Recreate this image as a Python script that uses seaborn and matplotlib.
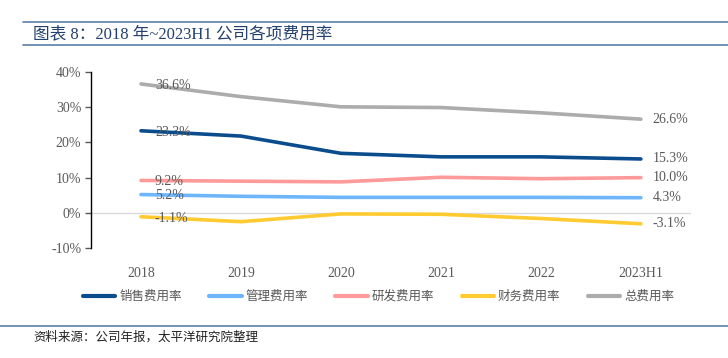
import pandas as pd
import matplotlib.pyplot as plt
import seaborn as sns
from matplotlib.lines import Line2D

# data (%)
years = ['2018', '2019', '2020', '2021', '2022', '2023H1']
sales = [23.3, 21.8, 16.9, 15.9, 15.9, 15.3]
admin = [5.2, 4.7, 4.4, 4.4, 4.4, 4.3]
rnd = [9.2, 9.0, 8.8, 10.1, 9.7, 10.0]
finance = [-1.1, -2.5, -0.3, -0.4, -1.6, -3.1]
total = [36.6, 33.0, 30.1, 29.9, 28.4, 26.6]

names = ['销售费用率', '管理费用率', '研发费用率', '财务费用率', '总费用率']
colors = ['#0b4d8c', '#6db6fb', '#ff9a9a', '#ffcb31', '#acacac']
series = [sales, admin, rnd, finance, total]

rows = []
for name, vals in zip(names, series):
    for i, (y, v) in enumerate(zip(years, vals)):
        rows.append({'year': y, 'idx': i, 'rate': v, 'item': name})
df = pd.DataFrame(rows)

sns.set_style('white')
plt.rcParams['font.family'] = ['Liberation Serif', 'Noto Sans CJK SC']

fig = plt.figure(figsize=(7.28, 3.58), dpi=100)
ax = fig.add_axes([0.125, 0.307, 0.824, 0.492])

ax.axhline(0, color='#d9d9d9', lw=1, zorder=0)
sns.lineplot(data=df, x='idx', y='rate', hue='item', palette=colors,
             hue_order=names, linewidth=2.6, ax=ax, legend=False, sort=False)

txt_color = '#595959'
for vals in series:
    ax.annotate(f'{vals[0]:.1f}%', (0, vals[0]), xytext=(10, -1),
                textcoords='offset points', ha='left', va='center',
                fontsize=10, color=txt_color)
    ax.annotate(f'{vals[-1]:.1f}%', (len(years) - 1, vals[-1]), xytext=(8.5, 0),
                textcoords='offset points', ha='left', va='center',
                fontsize=10, color=txt_color)

ax.set_xlim(-0.5, len(years) - 0.5)
ax.set_ylim(-10, 40)
ax.set_xticks(range(len(years)))
ax.set_xticklabels(years)
ax.set_yticks(range(-10, 41, 10))
ax.set_yticklabels([f'{t}%' for t in range(-10, 41, 10)])
ax.set_xlabel('')
ax.set_ylabel('')
for s in ['top', 'right', 'bottom']:
    ax.spines[s].set_visible(False)
ax.spines['left'].set_color('black')
ax.spines['left'].set_linewidth(1)
ax.tick_params(axis='y', left=True, length=4, width=1, colors=txt_color, labelsize=10, pad=3)
ax.tick_params(axis='x', bottom=False, colors=txt_color, labelsize=10, pad=10)

handles = [Line2D([0], [0], color=c, lw=3) for c in colors]
fig.legend(handles, names, loc='center', bbox_to_anchor=(0.52, 0.172), ncol=5,
           frameon=False, handlelength=2.6, columnspacing=2.2,
           handletextpad=0.3, prop={'family': 'Noto Sans CJK SC', 'size': 9},
           labelcolor=txt_color)

# title and source with rules
fig.add_artist(Line2D([0.032, 1.0], [0.939, 0.939], color='#5b7fa8', lw=1.2))
fig.add_artist(Line2D([0.032, 1.0], [0.874, 0.874], color='#5b7fa8', lw=1.2))
fig.text(0.046, 0.905, '图表 8：2018 年~2023H1 公司各项费用率', fontsize=12,
         color='#24406e', va='center', family=['Liberation Serif', 'Noto Sans CJK SC'])
fig.add_artist(Line2D([0.0, 1.0], [0.09, 0.09], color='#5b7fa8', lw=1.2))
fig.text(0.046, 0.058, '资料来源：公司年报，太平洋研究院整理', fontsize=9,
         style='italic', color='#222222', va='center', family=['Noto Sans CJK SC'])

plt.savefig('out.png', dpi=100)
plt.close()
